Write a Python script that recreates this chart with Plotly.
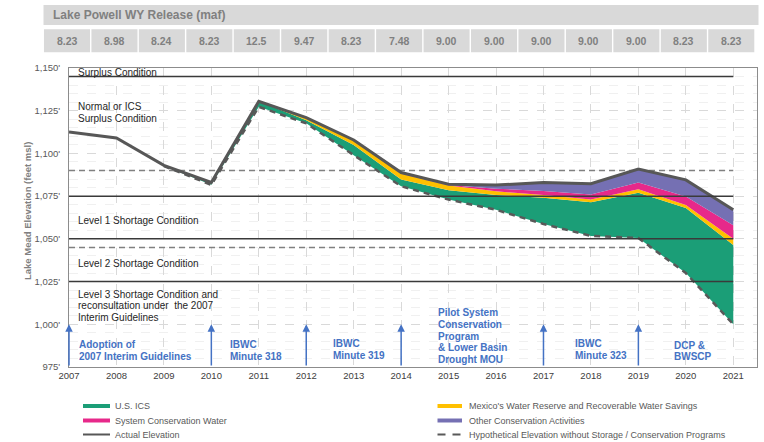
import plotly.graph_objects as go

# ---------------- data ----------------
release_years = list(range(2007, 2022))
powell_release = ["8.23", "8.98", "8.24", "8.23", "12.5", "9.47", "8.23", "7.48",
                  "9.00", "9.00", "9.00", "9.00", "9.00", "8.23", "8.23"]

actual_years = list(range(2007, 2022))
actual_elev = [1112.5, 1109.0, 1093.0, 1083.0, 1130.5, 1121.0, 1107.9, 1088.8,
               1082.0, 1081.5, 1083.0, 1082.3, 1090.9, 1084.5, 1067.0]

stack_years = list(range(2009, 2022))
hypothetical_elev = [1092.6, 1081.6, 1127.3, 1117.6, 1099.0, 1080.8, 1073.0,
                     1067.0, 1058.7, 1051.7, 1050.5, 1030.0, 1000.0]
us_ics = [0.4, 1.4, 3.2, 1.8, 6.0, 4.0, 5.5, 8.7, 15.3, 19.7, 26.5, 38.0, 46.4]
mexico_savings = [0, 0, 0, 1.4, 2.6, 3.3, 2.7, 2.1, 1.6, 1.6, 2.0, 1.8, 3.6]
system_conservation = [0, 0, 0, 0, 0, 0.3, 0.3, 1.6, 2.4, 3.0, 4.0, 5.0, 8.0]
other_conservation = [0, 0, 0, 0.2, 0.3, 0.4, 0.5, 2.1, 5.0, 6.3, 7.9, 9.7, 9.0]

solid_levels = [1145, 1075, 1050, 1025]
dashed_levels = [1090, 1045]

event_years = [2007, 2010, 2012, 2014, 2017, 2019]

y_ticks = [975, 1000, 1025, 1050, 1075, 1100, 1125, 1150]
x_ticks = list(range(2007, 2022))

# ---------------- styling / layout helpers ----------------
FONT = "Arial, 'Liberation Sans', sans-serif"
W, H = 764, 442
ML, MR, MT, MB = 69, 7, 68, 75
X0, X1 = 2007, 2021.5
Y0, Y1 = 975, 1150
PW, PH = W - ML - MR, H - MT - MB

GREEN, YELLOW, PINK, PURPLE = "#1b9e77", "#ffc000", "#e7298a", "#7570b3"
LINE_DARK = "#575757"
BLUE = "#4472c4"


def px_x(p):
    return (p - ML) / PW


def px_y(p):
    return (H - MB - p) / PH


def year_px(yr):
    return ML + (yr - X0) / (X1 - X0) * PW


fig = go.Figure()

# stacked areas above the hypothetical base
fig.add_trace(go.Scatter(x=stack_years, y=hypothetical_elev, mode="lines",
                         line=dict(width=0), stackgroup="s",
                         fillcolor="rgba(0,0,0,0)", showlegend=False,
                         hoverinfo="skip"))
for vals, col, name in [(us_ics, GREEN, "U.S. ICS"),
                        (mexico_savings, YELLOW, "Mexico's Water Reserve and Recoverable Water Savings"),
                        (system_conservation, PINK, "System Conservation Water"),
                        (other_conservation, PURPLE, "Other Conservation Activities")]:
    fig.add_trace(go.Scatter(x=stack_years, y=vals, mode="lines",
                             line=dict(width=0), stackgroup="s",
                             fillcolor=col, name=name, showlegend=False))

fig.add_trace(go.Scatter(x=stack_years, y=hypothetical_elev, mode="lines",
                         line=dict(color="#595959", width=2.5, dash="6px,5px"),
                         showlegend=False,
                         name="Hypothetical Elevation without Storage / Conservation Programs"))
fig.add_trace(go.Scatter(x=actual_years, y=actual_elev, mode="lines",
                         line=dict(color=LINE_DARK, width=3),
                         showlegend=False, name="Actual Elevation"))

shapes = []
annotations = []

# condition lines
for lv in solid_levels:
    shapes.append(dict(type="line", xref="x", yref="y", x0=2007, x1=2021,
                       y0=lv, y1=lv, line=dict(color="#3a3a3a", width=1.5),
                       layer="above"))
for lv in dashed_levels:
    shapes.append(dict(type="line", xref="x", yref="y", x0=2007, x1=2021,
                       y0=lv, y1=lv, line=dict(color="#808080", width=1.5,
                                               dash="6px,4px"),
                       layer="between"))

# condition labels (one annotation per line)
cond_labels = [
    ("Surplus Condition", 72.7),
    ("Normal or ICS", 106.7),
    ("Surplus Condition", 118.3),
    ("Level 1 Shortage Condition", 220.3),
    ("Level 2 Shortage Condition", 263.3),
    ("Level 3 Shortage Condition and", 294.0),
    ("reconsultation under  the 2007", 305.8),
    ("Interim Guidelines", 317.4),
]
for txt, py in cond_labels:
    annotations.append(dict(text=txt, xref="paper", yref="paper",
                            x=px_x(76), y=px_y(py), xanchor="left",
                            yanchor="middle", showarrow=False,
                            font=dict(family=FONT, size=10, color="#262626")))

# event arrows
for yr in event_years:
    annotations.append(dict(x=yr, y=1000, ax=yr, ay=Y0, xref="x", yref="y",
                            axref="x", ayref="y", text="", showarrow=True,
                            arrowhead=2, arrowsize=1, arrowwidth=1.5,
                            arrowcolor=BLUE))

# event labels
event_labels = [
    (76.5, [("Adoption of", 344.3), ("2007 Interim Guidelines", 356.3)]),
    (228, [("IBWC", 344.0), ("Minute 318", 356.0)]),
    (331, [("IBWC", 343.3), ("Minute 319", 355.0)]),
    (435.5, [("Pilot System", 312.7), ("Conservation", 324.3), ("Program", 336.0),
             ("& Lower Basin", 347.7), ("Drought MOU", 359.3)]),
    (572.5, [("IBWC", 343.0), ("Minute 323", 355.0)]),
    (671.5, [("DCP &", 345.0), ("BWSCP", 356.7)]),
]
for lx, lines in event_labels:
    for txt, py in lines:
        annotations.append(dict(text="<b>%s</b>" % txt, xref="paper", yref="paper",
                                x=px_x(lx), y=px_y(py), xanchor="left",
                                yanchor="middle", showarrow=False,
                                font=dict(family=FONT, size=10, color=BLUE)))

# header: Lake Powell releases
shapes.append(dict(type="rect", xref="paper", yref="paper",
                   x0=px_x(43.5), x1=px_x(758.5), y0=px_y(25), y1=px_y(5),
                   fillcolor="#d9d9d9", line=dict(width=0), layer="above"))
annotations.append(dict(text="<b>Lake Powell WY Release (maf)</b>", xref="paper",
                        yref="paper", x=px_x(50.5), y=px_y(15.2), xanchor="left",
                        yanchor="middle", showarrow=False,
                        font=dict(family=FONT, size=12, color="#808080")))
cell_w = PW / (X1 - X0)
for i, (yr, val) in enumerate(zip(release_years, powell_release)):
    cx = year_px(yr) - 2.0
    shapes.append(dict(type="rect", xref="paper", yref="paper",
                       x0=px_x(cx - cell_w / 2 + 0.7), x1=px_x(cx + cell_w / 2 - 0.7),
                       y0=px_y(52.3), y1=px_y(29.3), fillcolor="#d9d9d9",
                       line=dict(width=0), layer="above"))
    annotations.append(dict(text="<b>%s</b>" % val, xref="paper", yref="paper",
                            x=px_x(cx), y=px_y(41), xanchor="center",
                            yanchor="middle", showarrow=False,
                            font=dict(family=FONT, size=10.5, color="#808080")))

# custom legend
leg_items = [
    (83, 110, 113, 406.0, "bar", GREEN, "U.S. ICS"),
    (83, 110, 113, 420.5, "bar", PINK, "System Conservation Water"),
    (83, 110, 113, 434.5, "line", LINE_DARK, "Actual Elevation"),
    (437.5, 462, 466.5, 406.0, "bar", YELLOW, "Mexico's Water Reserve and Recoverable Water Savings"),
    (437.5, 462, 466.5, 420.5, "bar", PURPLE, "Other Conservation Activities"),
    (437.5, 462, 466.5, 434.5, "dash", "#595959", "Hypothetical Elevation without Storage / Conservation Programs"),
]
for sx0, sx1, tx, py, kind, col, txt in leg_items:
    if kind == "bar":
        shapes.append(dict(type="rect", xref="paper", yref="paper",
                           x0=px_x(sx0), x1=px_x(sx1), y0=px_y(py + 2),
                           y1=px_y(py - 2), fillcolor=col, line=dict(width=0)))
    elif kind == "line":
        shapes.append(dict(type="line", xref="paper", yref="paper",
                           x0=px_x(sx0), x1=px_x(sx1), y0=px_y(py), y1=px_y(py),
                           line=dict(color=col, width=2)))
    else:
        shapes.append(dict(type="line", xref="paper", yref="paper",
                           x0=px_x(sx0), x1=px_x(sx1), y0=px_y(py), y1=px_y(py),
                           line=dict(color=col, width=2, dash="8px,7px")))
    annotations.append(dict(text=txt, xref="paper", yref="paper", x=px_x(tx),
                            y=px_y(py), xanchor="left", yanchor="middle",
                            showarrow=False,
                            font=dict(family=FONT, size=9, color="#595959")))

# axis title
annotations.append(dict(text="<b>Lake Mead Elevation (feet msl)</b>", xref="paper",
                        yref="paper", x=px_x(27), y=px_y(211), textangle=-90,
                        xanchor="center", yanchor="middle", showarrow=False,
                        font=dict(family=FONT, size=9.5, color="#808080")))

fig.update_layout(
    width=W, height=H,
    margin=dict(l=ML, r=MR, t=MT, b=MB, pad=0),
    paper_bgcolor="white", plot_bgcolor="white",
    showlegend=False, hovermode=False,
    font=dict(family=FONT, color="#404040"),
    shapes=shapes, annotations=annotations,
    xaxis=dict(range=[X0, X1], tickvals=x_ticks, ticktext=[str(v) for v in x_ticks],
               showgrid=True, gridcolor="#d9d9d9", griddash="dash", gridwidth=1,
               showline=True, linecolor="#8c8c8c", linewidth=1, mirror=True,
               ticks="", zeroline=False,
               tickfont=dict(family=FONT, size=9.5, color="#404040")),
    yaxis=dict(range=[Y0, Y1], tickvals=y_ticks,
               ticktext=["{:,}'".format(v) for v in y_ticks],
               showgrid=True, gridcolor="#d9d9d9", griddash="dash", gridwidth=1,
               minor=dict(dtick=5, tick0=975, showgrid=True, gridcolor="#f0f0f0",
                          gridwidth=1),
               showline=True, linecolor="#8c8c8c", linewidth=1, mirror=True,
               ticks="", zeroline=False, ticklabelstandoff=6,
               tickfont=dict(family=FONT, size=9.5, color="#595959")),
)

fig.write_html("out.html", config={"displayModeBar": False},
               post_script="document.body.style.margin='0';document.body.style.overflow='hidden';")
